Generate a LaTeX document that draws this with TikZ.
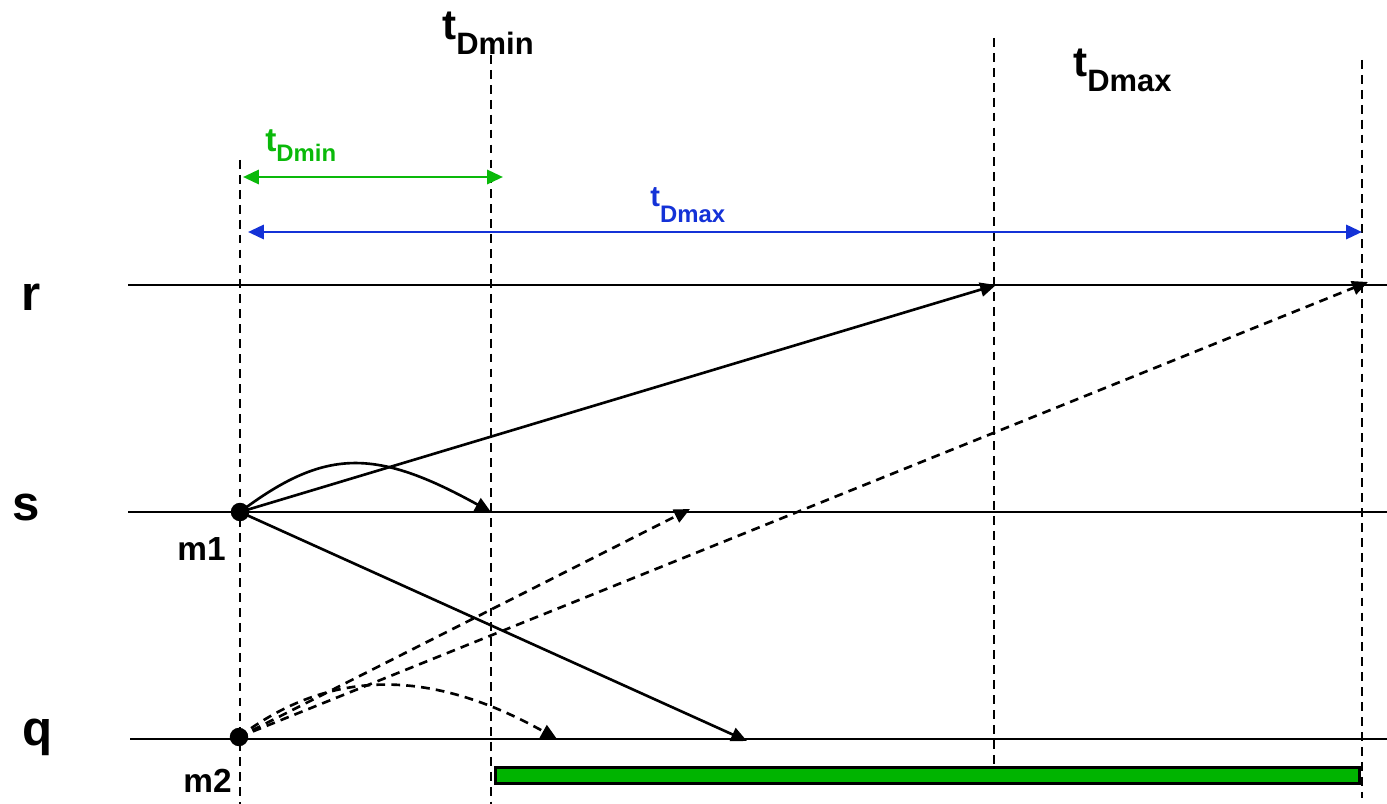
\documentclass[tikz,border=0pt]{standalone}
\usepackage{fontspec}
\setmainfont{Liberation Sans}
\usetikzlibrary{arrows.meta}
\definecolor{spangreen}{RGB}{10,185,10}
\definecolor{spanblue}{RGB}{20,50,215}
\definecolor{barfill}{RGB}{0,180,0}
\tikzset{
  px/.style={x=0.02cm,y=-0.02cm},
  tip/.style={-{Triangle[length=9pt,width=8pt]}},
  axis/.style={line width=1.5pt},
  guide/.style={line width=1.5pt,dash pattern=on 5pt off 3.5pt},
  msg/.style={line width=1.5pt,tip},
  msgdash/.style={line width=1.5pt,tip,dash pattern=on 5pt off 3.5pt},
  span/.style={line width=1.6pt,{Triangle[length=9pt,width=8pt]}-{Triangle[length=9pt,width=8pt]}},
  proc/.style={font=\bfseries\fontsize{28}{30}\selectfont,anchor=base west,inner sep=0pt},
  msgname/.style={font=\bfseries\fontsize{19}{20}\selectfont,anchor=base west,inner sep=0pt},
  dot/.style={circle,fill=black,inner sep=0pt,minimum size=10.5pt},
  lbl/.style={anchor=base west,inner sep=0pt,font=\bfseries}
}
% t with a lowered subscript: #1 size of t, #2 size of subscript, #3 drop, #4 subscript text
\newcommand{\tsub}[4]{{\fontsize{#1}{#1}\selectfont t}\raisebox{-#3}{\fontsize{#2}{#2}\selectfont #4}}
\begin{document}
\begin{tikzpicture}[px]
\useasboundingbox (0,0) rectangle (1387,804);

% process lines
\coordinate (rL) at (128,285); \coordinate (rR) at (1387,285);
\coordinate (sL) at (128,512); \coordinate (sR) at (1387,512);
\coordinate (qL) at (130,739); \coordinate (qR) at (1387,739);
\draw[axis] (rL) -- (rR);
\draw[axis] (sL) -- (sR);
\draw[axis] (qL) -- (qR);

\node[proc] (rlab) at (21,311) {r};
\node[proc] (slab) at (12,520) {s};
\node[proc] (qlab) at (22,745) {q};

% vertical time guides
\coordinate (g0t) at (240,160);  \coordinate (g0b) at (240,804);
\coordinate (g1t) at (491,55);   \coordinate (g1b) at (491,804);
\coordinate (g2t) at (994,38);   \coordinate (g2b) at (994,765);
\coordinate (g3t) at (1362,60);  \coordinate (g3b) at (1362,798);
\draw[guide] (g0t) -- (g0b);
\draw[guide] (g1t) -- (g1b);
\draw[guide] (g2t) -- (g2b);
\draw[guide] (g3t) -- (g3b);

% time labels
\node[lbl] (tmin) at (442,40) {\tsub{24}{17.6}{8.5pt}{Dmin}};
\node[lbl] (tmax) at (1073,77) {\tsub{24}{17.6}{8.5pt}{Dmax}};

% spans
\coordinate (gA) at (243,177); \coordinate (gB) at (503,177);
\coordinate (bA) at (248,232); \coordinate (bB) at (1362,232);
\draw[span,spangreen] (gA) -- (gB);
\draw[span,spanblue] (bA) -- (bB);
\node[lbl,text=spangreen] (gminlab) at (265,152) {\tsub{19}{13.6}{5.5pt}{Dmin}};
\node[lbl,text=spanblue] (bmaxlab) at (650,207) {\tsub{16.5}{13.6}{9pt}{Dmax}};

% message sources
\node[dot] (m1) at (240,512) {};
\node[dot] (m2) at (239,737) {};
\node[msgname] (m1lab) at (177,560) {m1};
\node[msgname] (m2lab) at (183,792) {m2};

% message targets
\coordinate (r1) at (996,285);
\coordinate (r2) at (1368,282);
\coordinate (s1) at (491,512);
\coordinate (s2) at (690,509);
\coordinate (q1) at (747,741);
\coordinate (q2) at (557,739);

% messages sent by m1
\draw[msg] (m1.center) -- (r1);
\draw[msg] (m1.center) -- (q1);
\draw[msg] (m1.center) .. controls (325,448) and (375,448) .. (s1);

% messages sent by m2
\draw[msgdash] (m2.center) -- (s2);
\draw[msgdash] (m2.center) -- (r2);
\draw[msgdash] (m2.center) .. controls (330,668) and (430,668) .. (q2);

% delivery window
\node[draw=black,line width=1.5pt,fill=barfill,minimum width=864*0.02cm,minimum height=16*0.02cm,inner sep=0pt,anchor=north west] (bar) at (494,766) {};
\end{tikzpicture}
\end{document}
